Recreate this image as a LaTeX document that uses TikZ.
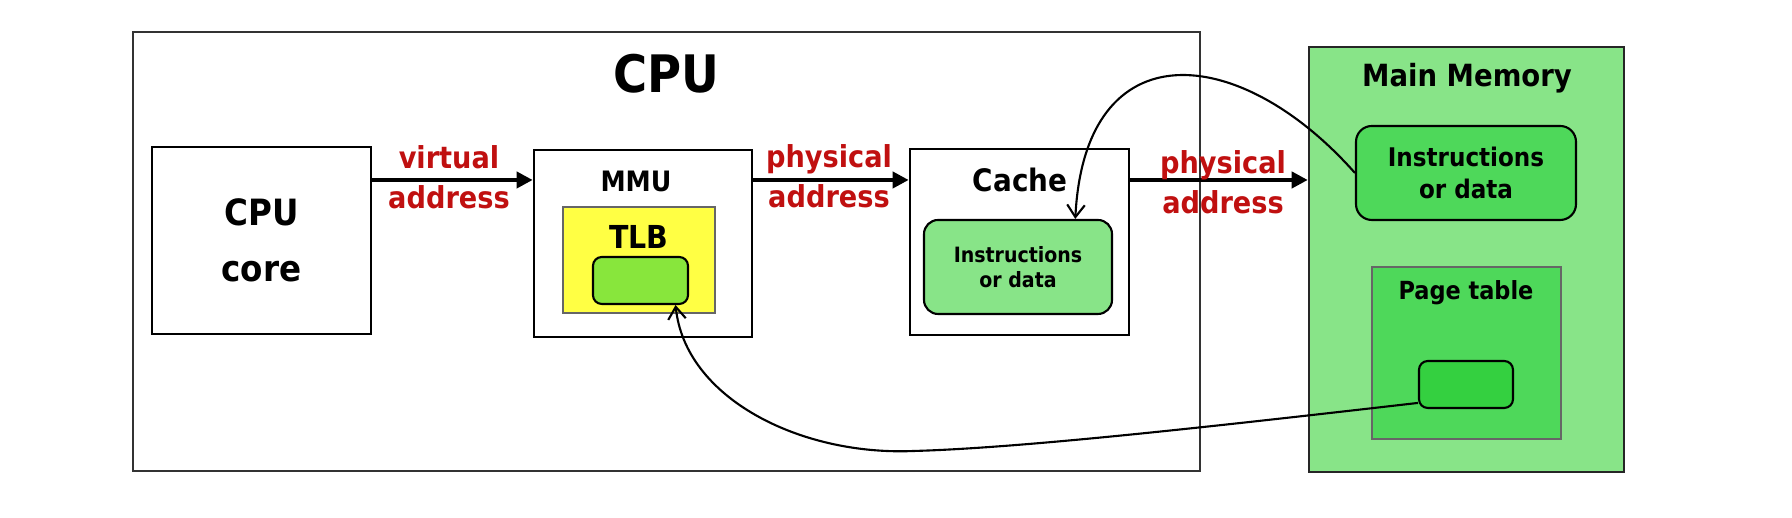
\documentclass[tikz,border=0pt]{standalone}
\usepackage{fontspec}
\setmainfont{DejaVu Sans Condensed}
\usepackage{xcolor}
\usepackage{tikz}
\usetikzlibrary{arrows.meta, positioning, calc}

\definecolor{memgreen}{RGB}{136,228,136}
\definecolor{midgreen}{RGB}{78,216,90}
\definecolor{deepgreen}{RGB}{52,208,64}
\definecolor{tlbgreen}{RGB}{136,230,60}
\definecolor{tlbyellow}{RGB}{255,255,68}
\definecolor{addrred}{RGB}{192,16,16}

\newcommand{\fs}[1]{\fontsize{#1}{1.2\dimexpr#1pt\relax}\selectfont\bfseries}

\tikzset{
  unitbox/.style={draw, line width=0.75pt, inner sep=0pt, fill=white},
  entry/.style={draw, line width=0.6pt, inner sep=0pt},
  addr/.style={text=addrred, align=center, inner sep=0pt},
  bus/.style={-{Triangle[length=4.6pt,width=4.6pt]}, line width=1.1pt},
  link/.style={-{Straight Barb[length=3.5pt,width=5pt]}, line width=0.6pt},
}

\begin{document}
\begin{tikzpicture}
\useasboundingbox (0,0) rectangle (17.92,5.18);
% CPU chip
\node[draw=black!80, line width=0.7pt, minimum width=10.67cm, minimum height=4.39cm] (cpu) at (6.665,2.665) {};
\node[font=\fs{14.7}] (cputitle) at (6.66,4.44) {CPU};
% core, MMU, cache
\node[unitbox, minimum width=2.19cm, minimum height=1.87cm, align=center, font={\fontsize{10.3}{15.9}\selectfont\bfseries}] (core) at (2.615,2.775) {CPU\\core};
\node[unitbox, minimum width=2.18cm, minimum height=1.87cm] (mmu) at (6.43,2.745) {};
\node[font=\fs{8}] (mmulabel) at (6.36,3.37) {MMU};
\node[draw=black!60, line width=0.4pt, fill=tlbyellow, minimum width=1.52cm, minimum height=1.06cm] (tlb) at (6.39,2.58) {};
\node[font=\fs{9}] (tlblabel) at (6.39,2.81) {TLB};
\node[entry, fill=tlbgreen, rounded corners=2.5pt, minimum width=0.95cm, minimum height=0.47cm] (tlbentry) at (6.405,2.375) {};
\node[unitbox, minimum width=2.19cm, minimum height=1.86cm] (cache) at (10.195,2.76) {};
\node[font=\fs{8.8}] (cachelabel) at (10.20,3.38) {Cache};
\node[entry, fill=memgreen, rounded corners=4pt, minimum width=1.88cm, minimum height=0.94cm, align=center, font={\fontsize{6}{7.1}\selectfont\bfseries}] (cacheinst) at (10.18,2.51) {Instructions\\or data};
% main memory
\node[draw=black!85, line width=0.7pt, fill=memgreen, minimum width=3.15cm, minimum height=4.25cm] (memory) at (14.665,2.585) {};
\node[font=\fs{8.7}] (memtitle) at (14.67,4.40) {Main Memory};
\node[entry, fill=midgreen, rounded corners=4.5pt, minimum width=2.20cm, minimum height=0.94cm, align=center, font={\fontsize{7.3}{9.1}\selectfont\bfseries}] (meminst) at (14.66,3.45) {Instructions\\or data};
\node[draw=black!60, line width=0.4pt, fill=midgreen, minimum width=1.89cm, minimum height=1.72cm] (pagetable) at (14.665,1.65) {};
\node[font=\fs{7.1}] (ptlabel) at (14.66,2.25) {Page table};
\node[entry, fill=deepgreen, rounded corners=2.5pt, minimum width=0.94cm, minimum height=0.47cm] (pte) at (14.66,1.335) {};
% address buses
\coordinate (busline) at (0,3.38);
\draw[bus] (core.east |- busline) -- (mmu.west |- busline);
\draw[bus] (mmu.east |- busline) -- (cache.west |- busline);
\draw[bus] (cache.east |- busline) -- (memory.west |- busline);
\node[addr, font={\fontsize{8.6}{11.4}\selectfont\bfseries}] (virt) at (4.49,3.41) {virtual\\address};
\node[addr, font={\fontsize{8.6}{11.4}\selectfont\bfseries}] (phys1) at (8.29,3.42) {physical\\address};
\node[addr, font={\fontsize{8.6}{11.4}\selectfont\bfseries}] (phys2) at (12.23,3.36) {physical\\address};
% fills
\draw[link] (meminst.west) .. controls (12.4,4.75) and (10.85,4.9) .. (cacheinst.40);
\draw[link] (pte.201) .. controls (12.0,0.9) and (10.2,0.7) .. (9.14,0.67)
  .. controls (8.0,0.62) and (6.85,1.2) .. (tlbentry.-35);
\end{tikzpicture}
\end{document}
